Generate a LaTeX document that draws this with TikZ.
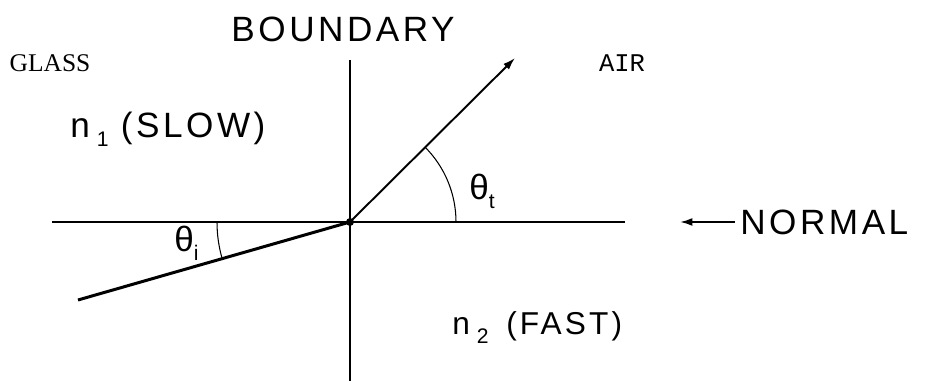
\documentclass[tikz,border=0pt]{standalone}
\usepackage{fontspec}
\setmainfont{Liberation Sans}
\newfontfamily\plotfont[LetterSpace=10]{Liberation Sans}
\newfontfamily\glassfont{Liberation Serif}
\newfontfamily\airfont{Liberation Mono}
\usetikzlibrary{arrows.meta,positioning}
\newcommand{\lowidx}[1]{\raisebox{-5pt}{\fontsize{12}{12}\selectfont #1}}

\begin{document}
\begin{tikzpicture}[
x=0.02cm, y=0.02cm,
txt/.style={inner sep=0, font=\plotfont\fontsize{20}{22}\selectfont},
medium/.style={inner sep=0, font=\fontsize{14.5}{16}\selectfont},
axis/.style={line width=1.7pt},
normalline/.style={line width=1.3pt},
ray/.style={line width=1.7pt},
anglearc/.style={line width=0.6pt},
arrow/.style={-{Latex[length=7pt,width=4.5pt]},line width=1.1pt}
]
\useasboundingbox (0,0) rectangle (926,381);

% geometry
\coordinate (O) at (350,159);
\coordinate (btop) at (350,321);
\coordinate (bbot) at (350,0);
\coordinate (nleft) at (52,159);
\coordinate (nright) at (625,159);
\coordinate (inc) at (78,81);
\coordinate (tip) at (515,323);
\coordinate (npoint) at (680,159);

% labels
\node[txt] (boundary) at (343,352) {BOUNDARY};
\node[medium] (glass) at (50,318) {\glassfont GLASS};
\node[medium] (air) at (622,318) {\airfont AIR};
\node[txt, anchor=base west] (slow) at (70,243)
{n\hspace{4pt}\lowidx{1}\hspace{7pt}(SLOW)};
\node[txt, anchor=base west, font=\plotfont\fontsize{18}{20}\selectfont] (fast) at (452,46)
{n\hspace{4pt}\lowidx{2}\hspace{10pt}(FAST)};
\node[txt, anchor=west] (normal) at (740,159) {NORMAL};
\node[txt, anchor=base west] (thetat) at (469,181) {θ\lowidx{t}};
\node[txt, anchor=base west] (thetai) at (174,129) {θ\lowidx{i}};

% lines
\draw[axis] (btop) -- (bbot);
\draw[normalline] (nleft) -- (nright);
\draw[ray] (inc) -- (O);
\draw[arrow] (O) -- (tip);
\fill (O) circle[radius=4];
\draw[anglearc] (O) ++(106,0) arc[start angle=0, end angle=45, radius=106];
\draw[anglearc] (O) ++(-133,0) arc[start angle=180, end angle=196, radius=133];
\draw[arrow, shorten <=0.1cm] (normal) -- (npoint);

\end{tikzpicture}
\end{document}
